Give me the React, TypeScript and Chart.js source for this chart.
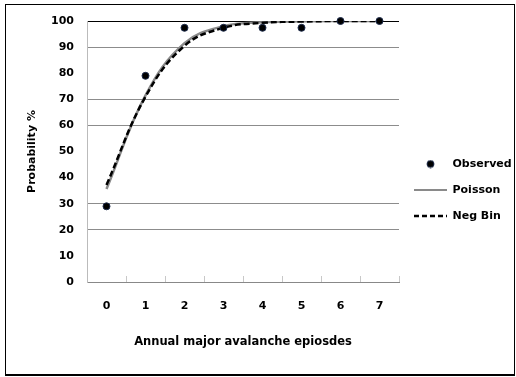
import React, { useEffect, useRef } from "react";
import { Chart, registerables } from "chart.js";

Chart.register(...registerables);

const categories = ["0", "1", "2", "3", "4", "5", "6", "7"];
const observed = [29, 79, 97.4, 97.4, 97.4, 97.4, 100, 100];
const poisson = [35.6, 71.5, 91.5, 98, 99.5, 99.9, 100, 100];
const negBin = [37.2, 71, 90.5, 97.4, 99.3, 99.8, 100, 100];
const yTicksShownGrid = [20, 30, 60, 70, 90];

const FONT = "'DejaVu Sans', sans-serif";

export default function App() {
  const ref = useRef<HTMLCanvasElement | null>(null);

  useEffect(() => {
    if (!ref.current) return;
    const dot = document.createElement("canvas");
    dot.width = 9;
    dot.height = 9;
    const dctx = dot.getContext("2d")!;
    dctx.beginPath();
    dctx.arc(4.5, 4.5, 3.5, 0, Math.PI * 2);
    dctx.fillStyle = "#000";
    dctx.fill();
    dctx.strokeStyle = "#1c2a4a";
    dctx.lineWidth = 1;
    dctx.stroke();

    const chart = new Chart(ref.current, {
      type: "line",
      data: {
        labels: categories,
        datasets: [
          {
            label: "Observed",
            data: observed,
            showLine: false,
            pointRadius: 3.5,
            pointBackgroundColor: "#000",
            pointBorderColor: "#1c2a4a",
            pointBorderWidth: 1,
            order: 0,
            clip: false as any,
          },
          {
            label: "Neg Bin",
            data: negBin,
            borderColor: "#000",
            borderWidth: 2.5,
            borderDash: [6, 3],
            pointRadius: 0,
            tension: 0.4,
            fill: false,
            order: 1,
          },
          {
            label: "Poisson",
            data: poisson,
            borderColor: "#8a8a8a",
            borderWidth: 2.5,
            pointRadius: 0,
            tension: 0.4,
            fill: false,
            order: 2,
          },
        ],
      },
      options: {
        responsive: false,
        animation: false,
        layout: { padding: { top: 21, bottom: 18, left: 0, right: 0 } },
        plugins: {
          tooltip: { enabled: false },
          legend: {
            position: "right",
            maxWidth: 117,
            labels: {
              usePointStyle: true,
              pointStyleWidth: 33,
              padding: 15,
              color: "#000",
              font: { family: FONT, size: 11, weight: "bold" },
              generateLabels: () => [
                {
                  text: "Observed",
                  pointStyle: dot as any,
                  fillStyle: "#000",
                  strokeStyle: "#000",
                  lineWidth: 0,
                  hidden: false,
                  datasetIndex: 0,
                  fontColor: "#000",
                },
                {
                  text: "Poisson",
                  pointStyle: "line",
                  fillStyle: "#8a8a8a",
                  strokeStyle: "#8a8a8a",
                  lineWidth: 2,
                  lineDash: [],
                  hidden: false,
                  datasetIndex: 2,
                  fontColor: "#000",
                },
                {
                  text: "Neg Bin",
                  pointStyle: "line",
                  fillStyle: "#000",
                  strokeStyle: "#000",
                  lineWidth: 2.5,
                  lineDash: [5, 3],
                  hidden: false,
                  datasetIndex: 1,
                  fontColor: "#000",
                },
              ] as any,
            },
          },
        },
        scales: {
          x: {
            type: "category",
            offset: true,
            ticks: {
              padding: 24,
              color: "#000",
              font: { family: FONT, size: 11, weight: "bold" },
            },
            grid: {
              offset: true,
              drawTicks: true,
              tickLength: -6,
              tickColor: "#c8c8c8",
              color: (ctx: any) => (ctx.index === 8 ? "#555" : "rgba(0,0,0,0)"),
            },
            border: { color: "#888" },
            title: {
              display: true,
              text: "Annual major avalanche epiosdes",
              color: "#000",
              font: { family: FONT, size: 11.5, weight: "bold" },
              padding: { top: 0, bottom: 10 },
            },
            afterFit: (s: any) => {
              s.height = 77;
            },
          },
          y: {
            min: 0,
            max: 100,
            ticks: {
              stepSize: 10,
              padding: 13,
              color: "#000",
              font: { family: FONT, size: 11, weight: "bold" },
            },
            grid: {
              drawTicks: false,
              color: (ctx: any) => {
                const v = ctx.tick ? ctx.tick.value : null;
                if (v === 100) return "#000";
                if (yTicksShownGrid.includes(v)) return "#8c8c8c";
                return "rgba(0,0,0,0)";
              },
            },
            border: { color: "#bbb" },
            title: {
              display: true,
              text: "Probability %",
              color: "#000",
              font: { family: FONT, size: 11, weight: "bold" },
              padding: { top: 26, bottom: 0 },
            },
            afterFit: (s: any) => {
              s.width = 87;
            },
          },
        },
      },
    });
    return () => chart.destroy();
  }, []);

  return (
    <div style={{ position: "fixed", left: 0, top: 0, width: 516, height: 377, background: "#fff" }}>
      <canvas ref={ref} width={516} height={377} style={{ position: "absolute", left: 0, top: 0 }} />
      <div
        style={{
          position: "absolute",
          left: 5,
          top: 4,
          width: 508,
          height: 369,
          borderTop: "1px solid #000",
          borderLeft: "1px solid #000",
          borderRight: "1px solid #000",
          borderBottom: "2px solid #000",
          pointerEvents: "none",
        }}
      />
    </div>
  );
}
